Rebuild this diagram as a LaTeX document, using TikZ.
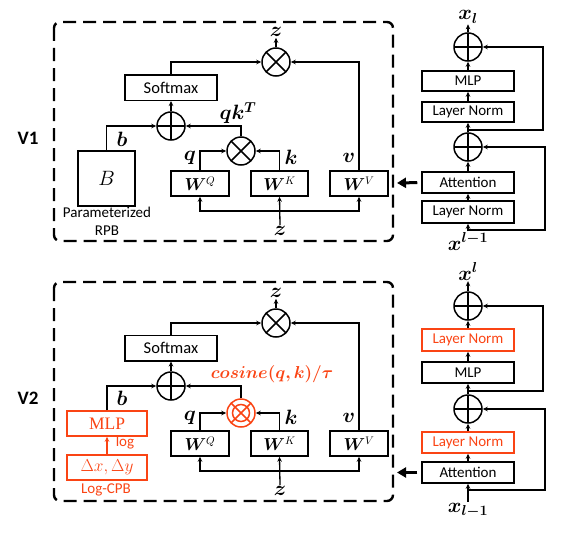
\documentclass[tikz,border=0pt]{standalone}
\usepackage{fontspec}
\usepackage{bm}
\newfontfamily\carl{Carlito}
\newfontfamily\lserif{Liberation Serif}
\usetikzlibrary{arrows.meta,calc}
\definecolor{ored}{RGB}{250,68,20}
\begin{document}
\begin{tikzpicture}[x=1pt,y=-1pt,
  box/.style={draw, line width=1.5pt, minimum width=92pt, minimum height=21pt, inner sep=0pt, font=\carl\fontsize{15}{17}\selectfont},
  obox/.style={box, draw=ored, text=ored},
  smbox/.style={box, minimum height=25.5pt, font=\carl\fontsize{16.5}{18}\selectfont},
  wbox/.style={draw, line width=1.5pt, minimum width=58pt, minimum height=25pt, inner sep=0pt, font=\fontsize{16}{18}\selectfont},
  lbox/.style={draw=ored, text=ored, line width=1.5pt, minimum width=80pt, minimum height=25pt, inner sep=0pt, font=\fontsize{17}{19}\selectfont},
  conn/.style={line width=1.3pt, -{Stealth[length=5pt,width=4.5pt]}},
  oconn/.style={conn, draw=ored},
  thickarr/.style={line width=3pt, -{Triangle[length=9pt,width=10pt]}, shorten <=4pt},
  frame/.style={line width=2.4pt, dash pattern=on 13pt off 7pt, rounded corners=6pt},
  oplus/.style={circle, draw, line width=1.5pt, minimum size=28pt, inner sep=0pt,
    path picture={\draw[line width=1.5pt] (path picture bounding box.north) -- (path picture bounding box.south) (path picture bounding box.west) -- (path picture bounding box.east);}},
  otimes/.style={circle, draw, line width=1.5pt, minimum size=28pt, inner sep=0pt,
    path picture={\draw[line width=1.5pt] (path picture bounding box.north west) -- (path picture bounding box.south east) (path picture bounding box.north east) -- (path picture bounding box.south west);}},
  ootimes/.style={circle, draw=ored, line width=1.5pt, minimum size=28pt, inner sep=0pt,
    path picture={\draw[ored, line width=1.5pt] (path picture bounding box.north west) -- (path picture bounding box.south east) (path picture bounding box.north east) -- (path picture bounding box.south west) (path picture bounding box.center) circle[radius=8.5pt];}},
  mlab/.style={font=\fontsize{20}{22}\selectfont, inner sep=1pt},
  txt/.style={font=\carl\fontsize{15}{17}\selectfont, inner sep=1pt},
  vlab/.style={font=\carl\bfseries\fontsize{19}{21}\selectfont}
]
\useasboundingbox (0,0) rectangle (572,535);

% ================= V1 =================
\draw[frame] (54,22) rectangle (393,241);
\node[vlab] (v1) at (28,138) {V1};

\node[otimes] (aot1) at (276,62) {};
\node[mlab] (az1) at (276,32) {$\bm{z}$};
\node[smbox] (asm) at (171,87.5) {Softmax};
\node[oplus] (aop) at (171,126) {};
\node[otimes] (aot2) at (241,151) {};
\node[draw, line width=1.5pt, minimum width=57pt, minimum height=55pt, inner sep=0pt, font=\fontsize{21}{23}\selectfont] (aB) at (106.5,178.5) {$B$};
\node[txt] (apar) at (107,212.5) {Parameterized};
\node[txt] (arpb) at (107,231) {RPB};
\node[wbox] (awq) at (200,183.5) {$\bm{W}^{Q}$};
\node[wbox, minimum width=57pt] (awk) at (279.5,183.5) {$\bm{W}^{K}$};
\node[wbox] (awv) at (359,183.5) {$\bm{W}^{V}$};
\coordinate (aj) at (280,211);
\node[mlab] (az2) at (280,231) {$\bm{z}$};

\node[mlab] (ab) at (122,139) {$\bm{b}$};
\node[mlab] (aqk) at (238,113) {$\bm{qk^T}$};
\node[mlab] (aq) at (190,158) {$\bm{q}$};
\node[mlab] (ak) at (291,157) {$\bm{k}$};
\node[mlab] (av) at (349,158) {$\bm{v}$};

\draw[conn] (aot1.north) -- (az1.south);
\draw[conn] (asm.north) |- (aot1.west);
\draw[conn] (awv.north) |- (aot1.east);
\draw[conn] (aop.north) -- (asm.south);
\draw[conn] (aB.north) |- (aop.west);
\draw[conn] (aot2.north) |- (aop.east);
\draw[conn] (awq.north) |- (aot2.west);
\draw[conn] (awk.north) |- (aot2.east);
\draw[conn] (az2.north) -- (awk.south);
\draw[conn] (aj) -| (awq.south);
\draw[conn] (aj) -| (awv.south);

% right column V1
\node[oplus] (rop1) at (468,47) {};
\node[box, minimum height=20pt] (rmlp) at (468,81) {MLP};
\node[box, minimum height=20pt] (rln1) at (468,112) {Layer Norm};
\node[oplus] (rop2) at (468,147) {};
\node[box] (ratt) at (468,182.5) {Attention};
\node[box, minimum height=22pt] (rln2) at (468,212) {Layer Norm};
\node[mlab, anchor=base] (rxo) at (468,20) {$\bm{x_l}$};
\node[mlab, anchor=base] (rxi) at (468,250) {$\bm{x^{l-1}}$};
\coordinate (rr1a) at (468,130);
\coordinate (rr1b) at (543,130);
\coordinate (rr2a) at (468,230);
\coordinate (rr2b) at (545,230);
\coordinate (rt) at (397,183);

\draw[conn] (rxi.north) -- (rln2.south);
\draw[conn] (rln2.north) -- (ratt.south);
\draw[conn] (ratt.north) -- (rop2.south);
\draw[conn] (rop2.north) -- (rln1.south);
\draw[conn] (rln1.north) -- (rmlp.south);
\draw[conn] (rmlp.north) -- (rop1.south);
\draw[conn] (rop1.north) -- (rxo.south);
\draw[conn] (rr1a) -- (rr1b) |- (rop1.east);
\draw[conn] (rr2a) -- (rr2b) |- (rop2.east);
\draw[thickarr] (ratt.west) -- (rt);

% ================= V2 =================
\draw[frame] (54,282) rectangle (393,501);
\node[vlab] (v2) at (28,398) {V2};

\node[otimes] (bot1) at (276,323) {};
\node[mlab] (bz1) at (276,293) {$\bm{z}$};
\node[smbox] (bsm) at (171,348) {Softmax};
\node[oplus] (bop) at (171,386) {};
\node[ootimes] (bot2) at (241,413) {};
\node[lbox, font=\lserif\fontsize{17.5}{19}\selectfont] (bmlp) at (107,423.5) {MLP};
\node[lbox] (bdel) at (107,467.5) {$\Delta x,\Delta y$};
\node[txt, text=ored] (blog) at (125,443) {log};
\node[txt, text=ored] (bcpb) at (106,490) {Log-CPB};
\node[wbox] (bwq) at (200,443.5) {$\bm{W}^{Q}$};
\node[wbox, minimum width=57pt] (bwk) at (279.5,443.5) {$\bm{W}^{K}$};
\node[wbox] (bwv) at (359,443.5) {$\bm{W}^{V}$};
\coordinate (bj) at (280,471);
\node[mlab] (bz2) at (280,491) {$\bm{z}$};

\node[mlab] (bb) at (122,398) {$\bm{b}$};
\node[mlab, text=ored, font=\fontsize{18}{20}\selectfont] (bcos) at (272,374) {$\bm{cosine(q,k)/\tau}$};
\node[mlab] (bq) at (190,418) {$\bm{q}$};
\node[mlab] (bk) at (291,417) {$\bm{k}$};
\node[mlab] (bv) at (349,418) {$\bm{v}$};

\draw[conn] (bot1.north) -- (bz1.south);
\draw[conn] (bsm.north) |- (bot1.west);
\draw[conn] (bwv.north) |- (bot1.east);
\draw[conn] (bop.north) -- (bsm.south);
\draw[conn] (bmlp.north) |- (bop.west);
\draw[oconn] (bdel.north) -- (bmlp.south);
\draw[conn] (bot2.north) |- (bop.east);
\draw[conn] (bwq.north) |- (bot2.west);
\draw[conn] (bwk.north) |- (bot2.east);
\draw[conn] (bz2.north) -- (bwk.south);
\draw[conn] (bj) -| (bwq.south);
\draw[conn] (bj) -| (bwv.south);

% right column V2
\node[oplus] (sop1) at (468,306) {};
\node[obox, minimum height=22pt] (sln1) at (468,340) {Layer Norm};
\node[box] (smlp) at (468,372.5) {MLP};
\node[oplus] (sop2) at (468,409) {};
\node[obox] (sln2) at (468,442.5) {Layer Norm};
\node[box] (satt) at (468,472.5) {Attention};
\node[mlab, anchor=base] (sxo) at (468,280) {$\bm{x^l}$};
\node[mlab, anchor=base] (sxi) at (468,512) {$\bm{x_{l-1}}$};
\coordinate (sr1a) at (468,391);
\coordinate (sr1b) at (543,391);
\coordinate (sr2a) at (468,490);
\coordinate (sr2b) at (545,490);
\coordinate (st) at (397,472.5);

\draw[conn] (sxi.north) -- (satt.south);
\draw[conn] (satt.north) -- (sln2.south);
\draw[conn] (sln2.north) -- (sop2.south);
\draw[conn] (sop2.north) -- (smlp.south);
\draw[conn] (smlp.north) -- (sln1.south);
\draw[conn] (sln1.north) -- (sop1.south);
\draw[conn] (sop1.north) -- (sxo.south);
\draw[conn] (sr1a) -- (sr1b) |- (sop1.east);
\draw[conn] (sr2a) -- (sr2b) |- (sop2.east);
\draw[thickarr] (satt.west) -- (st);
\end{tikzpicture}
\end{document}
